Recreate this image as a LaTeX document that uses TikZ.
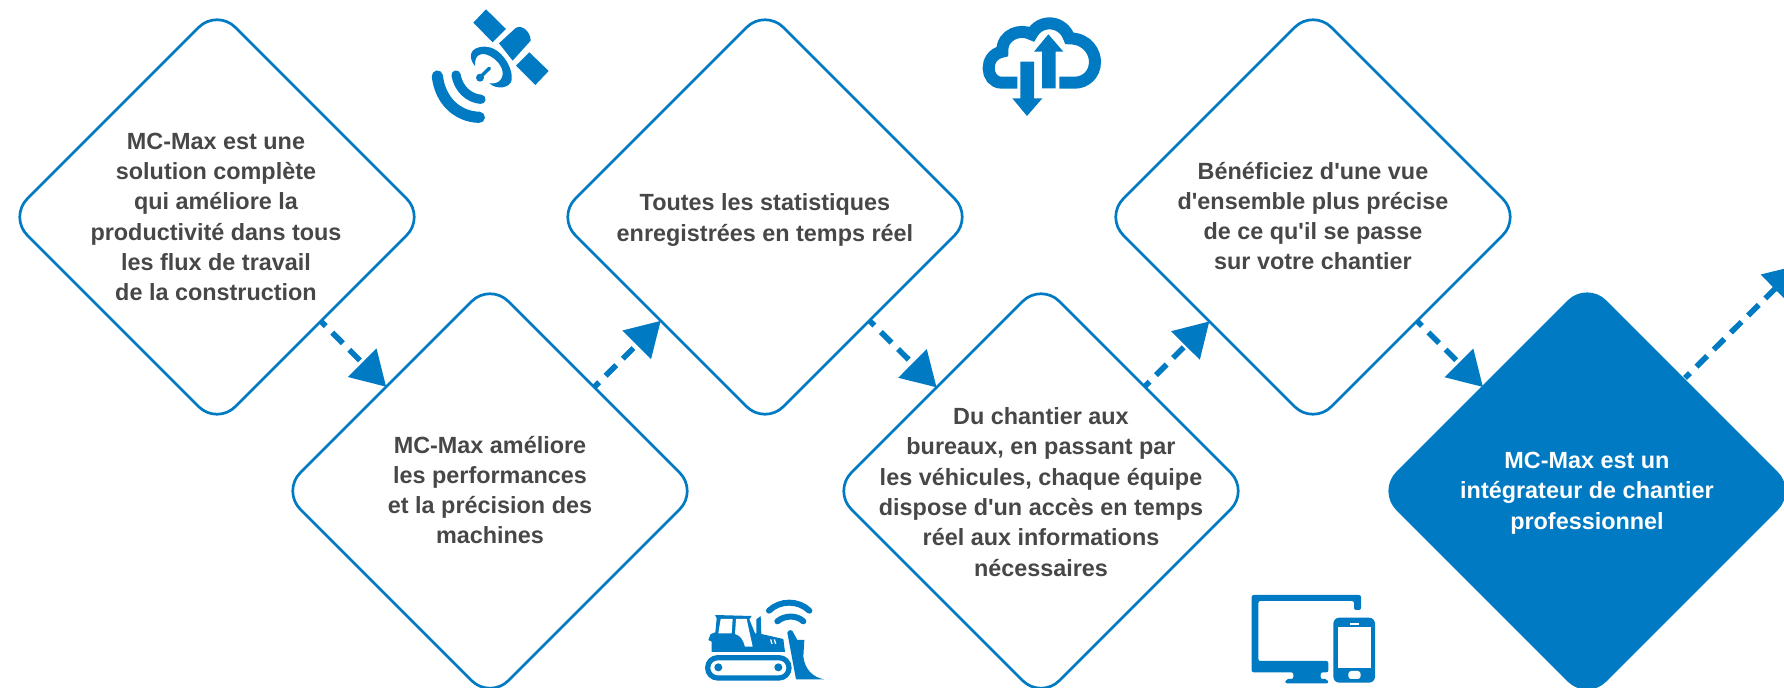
\documentclass[tikz,border=0pt]{standalone}
\usepackage{fontspec}
\newfontfamily\mcfont{Liberation Sans}
\usetikzlibrary{shapes.geometric,arrows.meta}
\definecolor{mcblue}{HTML}{007AC2}
\definecolor{mctext}{HTML}{474747}
\tikzset{
  stepbox/.style={shape=diamond,aspect=1,minimum width=208pt,minimum height=208pt,inner sep=0pt,outer sep=0pt,rounded corners=13pt,draw=mcblue,line width=1.35pt},
  stepfill/.style={stepbox,fill=mcblue},
  steptext/.style={align=center,text=mctext,inner sep=0pt,font=\mcfont\fontsize{11.7}{15.15}\selectfont\bfseries},
  flow/.style={draw=mcblue,line width=2.8pt,dash pattern=on 7.5pt off 4.6pt,dash phase=4pt,-{Triangle[length=17pt,width=19.5pt]}},
  icon/.style={x=0.16667pt,y=-0.16667pt},
  ifill/.style={fill=mcblue,draw=none},
  iwhite/.style={fill=white,draw=none},
  iline/.style={draw=mcblue,fill=none,line cap=round}
}
\begin{document}
\begin{tikzpicture}[x=0.5pt,y=-0.5pt]
\useasboundingbox (0,0) rectangle (1784,688);
\node[stepbox] (d1) at (217,217) {};
\node[stepbox] (d2) at (490,491) {};
\node[stepbox] (d3) at (765,217) {};
\node[stepbox] (d4) at (1041,491) {};
\node[stepbox] (d5) at (1313,217) {};
\node[stepfill] (d6) at (1587,491) {};
\node[steptext] (t1) at (216,217) {MC-Max est une\\solution complète\\qui améliore la\\productivité dans tous\\les flux de travail\\de la construction};
\node[steptext] (t2) at (490,490) {MC-Max améliore\\les performances\\et la précision des\\machines};
\node[steptext] (t3) at (765,220) {Toutes les statistiques\\enregistrées en temps réel};
\node[steptext] (t4) at (1041,492) {Du chantier aux\\bureaux, en passant par\\les véhicules, chaque équipe\\dispose d'un accès en temps\\réel aux informations\\nécessaires};
\node[steptext] (t5) at (1313,216) {Bénéficiez d'une vue\\d'ensemble plus précise\\de ce qu'il se passe\\sur votre chantier};
\node[steptext,text=white] (t6) at (1587,493) {MC-Max est un\\intégrateur de chantier\\professionnel};
\draw[flow] (d1) -- (d2);
\draw[flow] (d2) -- (d3);
\draw[flow] (d3) -- (d4);
\draw[flow] (d4) -- (d5);
\draw[flow] (d5) -- (d6);
\coordinate (exit) at (1799,265);
\draw[flow] ([shift={(-6,-9)}]d6.45) -- (exit);
% satellite
\begin{scope}[shift={(400,0)},icon]
\fill[ifill] (258,28)--(318,87)--(278,127)--(220,68)--cycle;
\fill[ifill] (388,157)--(446,213)--(406,255)--(348,197)--cycle;
\fill[ifill] (297,130)--(347,84) .. controls (365,72) and (392,95) .. (392,122)--(338,182)--cycle;
\fill[ifill] (225,198) .. controls (205,175) and (205,140) .. (255,140) .. controls (300,140) and (340,200) .. (335,240) .. controls (330,265) and (290,270) .. (268,250) .. controls (300,255) and (315,230) .. (305,205) .. controls (295,180) and (265,160) .. (245,162) .. controls (225,165) and (225,185) .. (225,198) -- cycle;
\draw[iline,line width=1.7pt] (240,232)--(268,205);
\fill[ifill] (240,233) circle (12);
\draw[iline,line width=4.6pt] (168,225) .. controls (175,265) and (205,295) .. (243,298);
\draw[iline,line width=5.6pt] (112,228) .. controls (120,300) and (170,350) .. (238,352);
\end{scope}
% cloud
\begin{scope}[shift={(960,0)},icon]
\draw[draw=mcblue,line width=6pt] (172,248) -- (125,248) .. controls (75,248) and (70,165) .. (127,155) .. controls (125,100) and (185,85) .. (215,103) .. controls (240,55) and (310,60) .. (328,115) .. controls (385,115) and (405,160) .. (405,185) .. controls (405,225) and (375,248) .. (345,248) -- (298,248);
\fill[ifill] (246,265)--(287,265)--(287,155)--(310,155)--(265,103)--(222,155)--(246,155)--cycle;
\fill[ifill] (181,185)--(222,185)--(222,295)--(247,295)--(201,348)--(157,295)--(181,295)--cycle;
\end{scope}
% dozer
\begin{scope}[shift={(690,590)},icon]
\draw[draw=mcblue,line width=2.6pt,rounded corners=5pt] (53,203) rectangle (297,264);
\fill[ifill] (85,232) circle (12);
\fill[ifill] (265,232) circle (12);
\fill[ifill] (65,186)--(65,155)--(55,150)--(62,132)--(76,127)--(80,85)--(75,75)--(185,78)--(178,88)--(195,130)--(199,130)--(199,88)--(212,78)--(214,132)--(280,147)--(285,186)--cycle;
\fill[iwhite] (85,130)--(92,87)--(128,87)--(125,130)--cycle;
\fill[iwhite] (138,87)--(170,87)--(188,170)--(165,170) .. controls (160,150) and (150,135) .. (135,132)--cycle;
\fill[iwhite] (240,148)--(244,148)--(248,162)--(244,162)--cycle;
\fill[iwhite] (251,148)--(255,148)--(259,162)--(255,162)--cycle;
\fill[ifill] (292,128) .. controls (295,118) and (308,118) .. (310,128)--(322,150)--(343,150)--(340,200) .. controls (345,240) and (370,262) .. (402,268)--(318,268)--cycle;
\draw[iline,line width=3pt] (237,62) .. controls (270,30) and (325,30) .. (358,62);
\draw[iline,line width=3pt] (262,94) .. controls (285,75) and (320,75) .. (340,94);
\end{scope}
% screens
\begin{scope}[shift={(1240,580)},icon]
\fill[ifill,rounded corners=1pt] (35,45)--(363,45)--(363,90)--(342,90)--(342,63)--(55,63)--(55,243)--(265,243)--(265,277)--(242,277)--(242,297)--(262,297)--(266,310)--(135,310)--(138,297)--(160,297)--(160,277)--(35,277)--cycle;
\fill[ifill,rounded corners=3pt] (280,113) rectangle (405,308);
\fill[iwhite] (294,140) rectangle (392,265);
\fill[iwhite] (330,128) rectangle (358,134);
\fill[iwhite,rounded corners=1.5pt] (325,273) rectangle (362,297);
\end{scope}
\end{tikzpicture}
\end{document}
